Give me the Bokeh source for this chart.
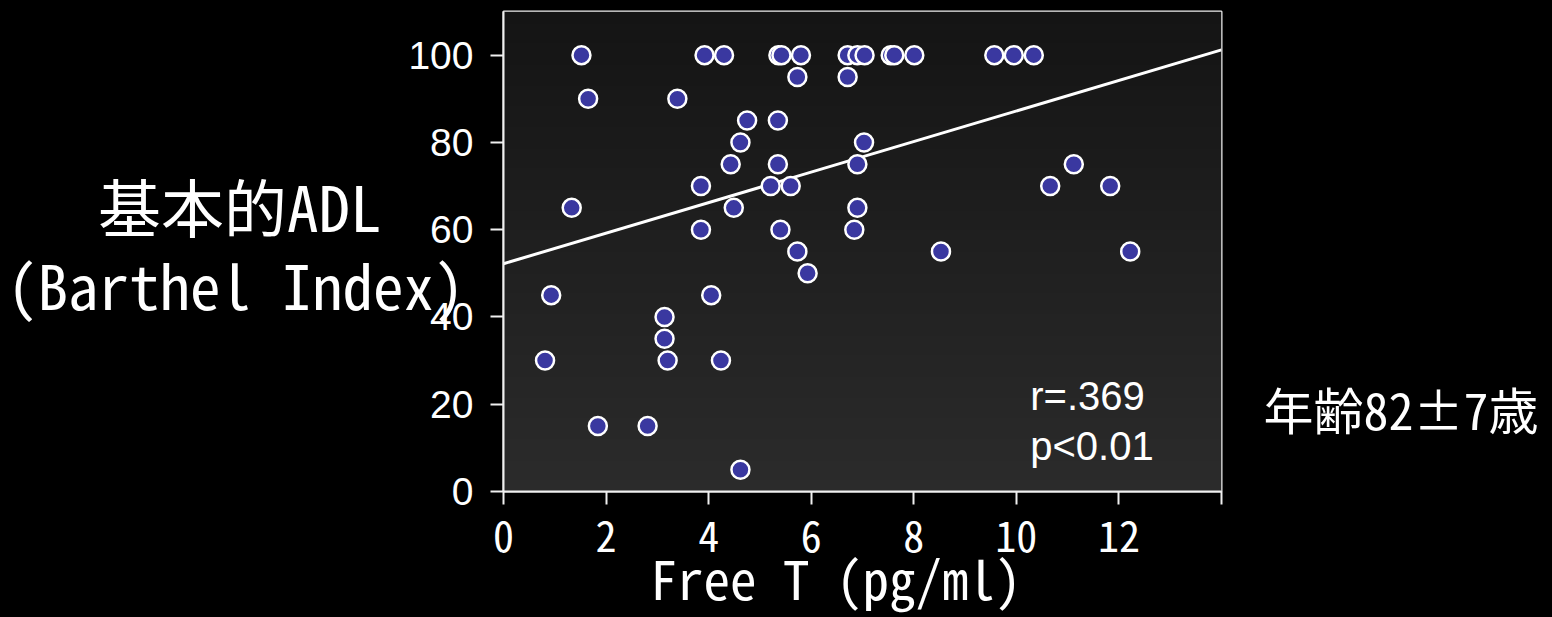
import numpy as np
from bokeh.plotting import figure
from bokeh.models import Range1d, FixedTicker, ColumnDataSource, LinearAxis, Label
from bokeh.embed import file_html
from bokeh.resources import INLINE

# ---- data ----
free_t = [1.52, 3.92, 4.30, 5.36, 5.42, 5.80, 6.71, 6.90, 7.04, 7.55, 7.62, 8.01, 9.57, 9.95, 10.34,
          5.73, 6.71,
          1.65, 3.39,
          4.75, 5.35,
          4.62, 7.03,
          4.43, 5.35, 6.90, 11.12,
          3.85, 5.21, 5.60, 10.66, 11.83,
          1.33, 4.49, 6.90,
          3.85, 5.40, 6.84,
          5.73, 8.53, 12.22,
          5.93,
          0.93, 4.05,
          3.14,
          3.14,
          0.81, 3.20, 4.24,
          1.84, 2.81,
          4.62]
adl = [100] * 15 + [95] * 2 + [90] * 2 + [85] * 2 + [80] * 2 + [75] * 4 + [70] * 5 + \
      [65] * 3 + [60] * 3 + [55] * 3 + [50] + [45] * 2 + [40] + [35] + [30] * 3 + [15] * 2 + [5]

fit_x = [0, 14]
fit_y = [52.2, 101.2]

x_ticks = [0, 2, 4, 6, 8, 10, 12, 14]
y_ticks = [0, 20, 40, 60, 80, 100]

ylabel_line1 = "基本的ADL"
ylabel_line2 = "(Barthel Index)"
xlabel = "Free T (pg/ml)"
age_text = "年齢82±7歳"
r_text = "r=.369"
p_text = "p<0.01"

MONO = "'Noto Sans Mono CJK JP', 'DejaVu Sans Mono', monospace"
ARIAL = "'Liberation Sans', Arial, sans-serif"

p = figure(width=1552, height=617, output_backend="svg", toolbar_location=None,
           x_range=Range1d(0, 14), y_range=Range1d(0, 110),
           min_border_left=503, min_border_right=331, min_border_top=11, min_border_bottom=126)
p.background_fill_color = "#000000"
p.border_fill_color = "#000000"
p.outline_line_color = "#f0f0f0"
p.outline_line_width = 2
p.grid.visible = False

# gradient background of the plotting area
N = 200
img = np.zeros((N, 1), dtype=np.uint32)
view = img.view(dtype=np.uint8).reshape((N, 1, 4))
for i in range(N):
    c = int(round(0x2b - (0x2b - 0x14) * i / (N - 1)))
    view[i, 0, :] = [c, c, c, 255]
p.image_rgba(image=[img], x=0, y=0, dw=14, dh=110)

# regression line
p.line(fit_x, fit_y, line_color="white", line_width=3)

# points
src = ColumnDataSource(dict(x=free_t, y=adl))
p.scatter("x", "y", source=src, size=18, fill_color="#3a38a0", line_color="white", line_width=2.5)

# main axes
for ax in (p.xaxis[0], p.yaxis[0]):
    ax.axis_line_color = "#f0f0f0"
    ax.axis_line_width = 2
    ax.major_tick_line_color = "#f0f0f0"
    ax.major_tick_line_width = 2
    ax.major_tick_in = 0
    ax.major_tick_out = 13
    ax.minor_tick_line_color = None
    ax.major_label_text_color = "white"

p.xaxis.ticker = FixedTicker(ticks=x_ticks)
p.xaxis.major_label_overrides = {14: ""}
p.xaxis.major_label_text_font = MONO
p.xaxis.major_label_text_font_size = "42px"
p.xaxis.major_label_standoff = 16

p.yaxis.ticker = FixedTicker(ticks=y_ticks)
p.yaxis.major_label_text_font = ARIAL
p.yaxis.major_label_text_font_size = "39px"
p.yaxis.major_label_standoff = 17


def label_axis(text, size, standoff, line_height, y_side):
    ax = LinearAxis(ticker=FixedTicker(ticks=[]))
    ax.axis_line_color = None
    ax.major_tick_line_color = None
    ax.minor_tick_line_color = None
    ax.major_tick_in = 0
    ax.major_tick_out = 0
    ax.minor_tick_in = 0
    ax.minor_tick_out = 0
    ax.major_label_standoff = 0
    ax.axis_label = text
    ax.axis_label_text_font = MONO
    ax.axis_label_text_font_size = size
    ax.axis_label_text_font_style = "normal"
    ax.axis_label_text_color = "white"
    ax.axis_label_text_line_height = line_height
    ax.axis_label_standoff = standoff
    if y_side:
        ax.axis_label_orientation = "horizontal"
    return ax


# y label (two lines, horizontal, left of the plot); the empty line shifts each line vertically
p.add_layout(label_axis(ylabel_line1 + "\n", "63px", 24, 1.036, True), "left")
p.add_layout(label_axis("\n" + ylabel_line2, "61px", -369, 0.714, True), "left")
# x label (two no-break spaces move its centre left of the frame centre)
p.add_layout(label_axis(xlabel + "\u00a0\u00a0", "53px", -16, 1.2, False), "below")
# age text on the right
p.add_layout(label_axis("\n" + age_text, "50px", 42, 4.35, True), "right")

# statistics inside the plot
p.add_layout(Label(x=10.27, y=22.0, text=r_text, text_font=ARIAL, text_font_size="40px",
                   text_color="white", text_align="left", text_baseline="middle"))
p.add_layout(Label(x=10.27, y=10.54, text=p_text, text_font=ARIAL, text_font_size="40px",
                   text_color="white", text_align="left", text_baseline="middle"))

open("out.html", "w").write(file_html(p, INLINE).replace("<body>", "<body style=\"background:#000000\">"))
